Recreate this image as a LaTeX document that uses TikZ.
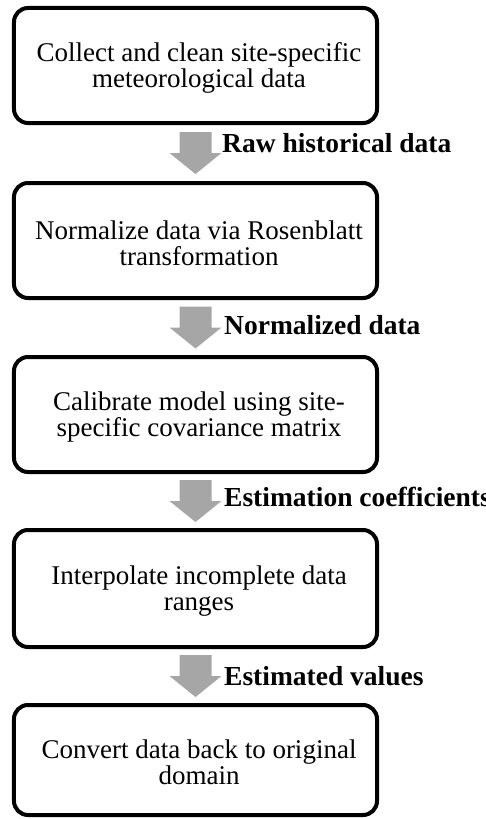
\documentclass[tikz,border=0pt]{standalone}
\usepackage{fontspec}
\setmainfont{Liberation Serif}
\usetikzlibrary{calc}
\definecolor{arrowgray}{RGB}{166,166,166}
\begin{document}
\begin{tikzpicture}[x=1bp,y=-1bp,
  stepbox/.style={draw=black, line width=4bp, rounded corners=14bp,
    minimum width=363bp, inner sep=0pt},
  steptext/.style={align=center, inner sep=0pt,
    font=\fontsize{27bp}{26bp}\selectfont},
  flowlabel/.style={anchor=base west, inner sep=0pt,
    font=\fontsize{27.5bp}{27bp}\selectfont\bfseries},
  flowarrow/.pic={\fill[arrowgray] (-16,-21) -- ++(32,0) -- ++(0,21)
    -- ++(10,0) -- ++(-26,21) -- ++(-26,-21) -- ++(10,0) -- cycle;}]
\useasboundingbox (0,0) rectangle (486,819);

% process steps
\node[stepbox, minimum height=115bp] (b1) at (195.5,65.5) {};
\node[stepbox, minimum height=115bp] (b2) at (195.5,240.5) {};
\node[stepbox, minimum height=115bp] (b3) at (195.5,414.5) {};
\node[stepbox, minimum height=117bp] (b4) at (195.5,588.5) {};
\node[stepbox, minimum height=110bp] (b5) at (195.5,760) {};

% step descriptions
\node[steptext] (t1) at ($(b1.center)+(3.5,2.5)$)
  {Collect and clean site-specific\\meteorological data};
\node[steptext] (t2) at ($(b2.center)+(3.5,2.5)$)
  {Normalize data via Rosenblatt\\transformation};
\node[steptext] (t3) at ($(b3.center)+(3.5,2.5)$)
  {Calibrate model using site-\\specific covariance matrix};
\node[steptext] (t4) at ($(b4.center)+(3.5,2.5)$)
  {Interpolate incomplete data\\ranges};
\node[steptext] (t5) at ($(b5.center)+(3.5,2.5)$)
  {Convert data back to original\\domain};

% block arrows between consecutive steps
\coordinate (m1) at ($(b1.south)!0.5!(b2.north)$);
\coordinate (m2) at ($(b2.south)!0.5!(b3.north)$);
\coordinate (m3) at ($(b3.south)!0.5!(b4.north)$);
\coordinate (m4) at ($(b4.south)!0.5!(b5.north)$);
\pic at (m1) {flowarrow};
\pic at (m2) {flowarrow};
\pic at (m3) {flowarrow};
\pic at (m4) {flowarrow};

% data passed along each arrow
\node[flowlabel] (l1) at (222,152) {Raw historical data};
\node[flowlabel] (l2) at (224,334) {Normalized data};
\node[flowlabel] (l3) at (224,506) {Estimation coefficients};
\node[flowlabel] (l4) at (224,685) {Estimated values};
\end{tikzpicture}
\end{document}
